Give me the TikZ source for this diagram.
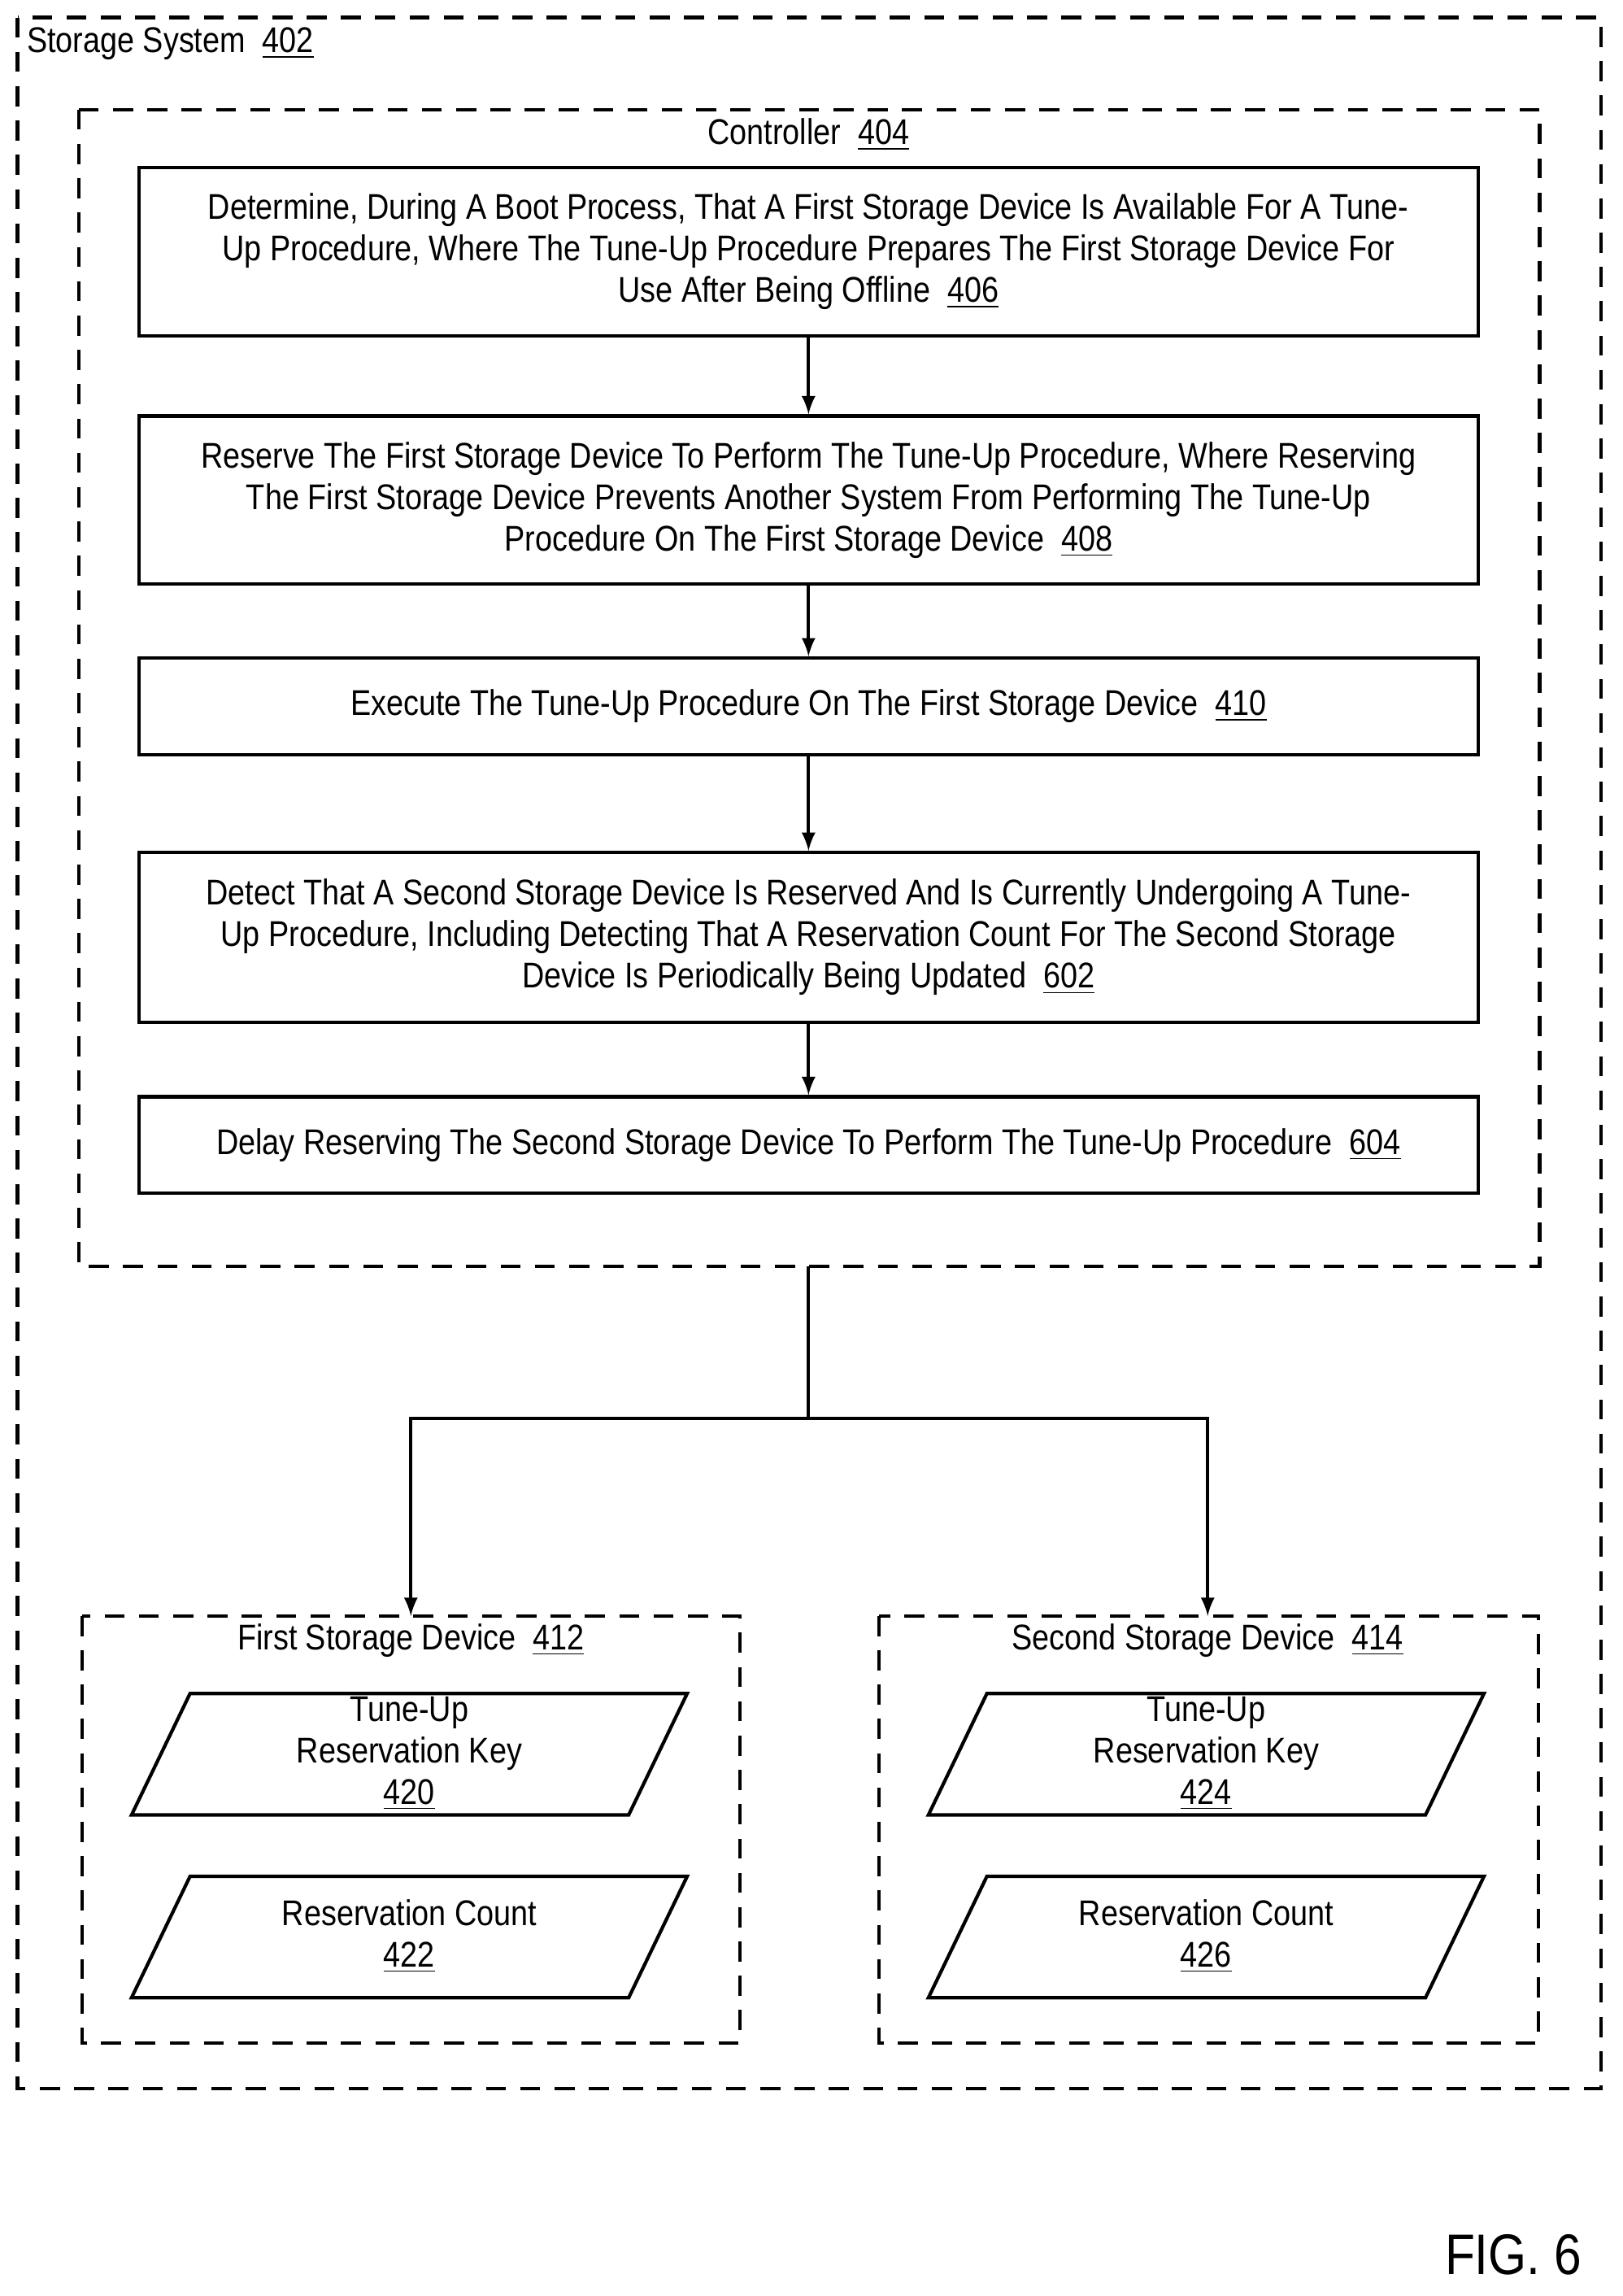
\documentclass[tikz,border=0pt]{standalone}
\usepackage{fontspec}
\setmainfont[FakeStretch=0.86]{Liberation Sans}
\tikzset{
	dframe/.style={draw,line width=1.2pt,dash pattern=on 7pt off 5pt},
	stepbox/.style={draw,line width=1.2pt,minimum width=916*0.01797cm,align=center,font=\fontsize{12.5}{14.5}\selectfont},
	dlabel/.style={font=\fontsize{12.5}{14.5}\selectfont,inner sep=0pt},
	pgram/.style={draw,line width=1.2pt},
	flowarr/.style={line width=1.2pt,-latex}
}
\newcommand{\num}[1]{\underline{#1}}
\begin{document}
\begin{tikzpicture}[x=0.01797cm,y=-0.01797cm]
\useasboundingbox (0,0) rectangle (1110,1570);
% frames
\draw[dframe] (12,12) rectangle (1095,1428);
\node[dlabel,anchor=west] (sys) at (18,30) {Storage System\ \ \num{402}};
\draw[dframe] (54,75) rectangle (1053,866);
\coordinate (ctl) at (553,866);
\node[dlabel] (ctltext) at (553,92) {Controller\ \ \num{404}};
% steps
\node[stepbox,minimum height=115*0.01797cm] (s406) at (553,172) {Determine, During A Boot Process, That A First Storage Device Is Available For A Tune-\\Up Procedure, Where The Tune-Up Procedure Prepares The First Storage Device For\\Use After Being Offline\ \ \num{406}};
\node[stepbox,minimum height=115*0.01797cm] (s408) at (553,342) {Reserve The First Storage Device To Perform The Tune-Up Procedure, Where Reserving\\The First Storage Device Prevents Another System From Performing The Tune-Up\\Procedure On The First Storage Device\ \ \num{408}};
\node[stepbox,minimum height=66*0.01797cm] (s410) at (553,483) {Execute The Tune-Up Procedure On The First Storage Device\ \ \num{410}};
\node[stepbox,minimum height=116*0.01797cm] (s602) at (553,641) {Detect That A Second Storage Device Is Reserved And Is Currently Undergoing A Tune-\\Up Procedure, Including Detecting That A Reservation Count For The Second Storage\\Device Is Periodically Being Updated\ \ \num{602}};
\node[stepbox,minimum height=66*0.01797cm] (s604) at (553,783) {Delay Reserving The Second Storage Device To Perform The Tune-Up Procedure\ \ \num{604}};
\draw[flowarr] (s406) -- (s408);
\draw[flowarr] (s408) -- (s410);
\draw[flowarr] (s410) -- (s602);
\draw[flowarr] (s602) -- (s604);
% devices
\draw[dframe] (56,1105) rectangle (506,1397);
\draw[dframe] (601,1105) rectangle (1052,1397);
\coordinate (dev1) at (281,1105);
\coordinate (dev2) at (826,1105);
\node[dlabel] (d412) at (281,1122) {First Storage Device\ \ \num{412}};
\node[dlabel] (d414) at (826,1122) {Second Storage Device\ \ \num{414}};
\coordinate (split) at (553,970);
\draw[line width=1.2pt] (ctl) -- (split);
\draw[flowarr] (split) -| (dev1);
\draw[flowarr] (split) -| (dev2);
\foreach \x/\k/\c in {0/420/422,545/424/426}{
	\draw[pgram] (90+\x,1241) -- (130+\x,1158) -- (470+\x,1158) -- (430+\x,1241) -- cycle;
	\node[dlabel,align=center] (key\k) at (280+\x,1199) {Tune-Up\\Reservation Key\\\num{\k}};
	\draw[pgram] (90+\x,1366) -- (130+\x,1283) -- (470+\x,1283) -- (430+\x,1366) -- cycle;
	\node[dlabel,align=center] (cnt\c) at (280+\x,1324) {Reservation Count\\\num{\c}};
}
\node[font=\fontsize{20}{24}\selectfont,inner sep=0pt] (fig) at (1035,1542) {FIG. 6};
\end{tikzpicture}
\end{document}
